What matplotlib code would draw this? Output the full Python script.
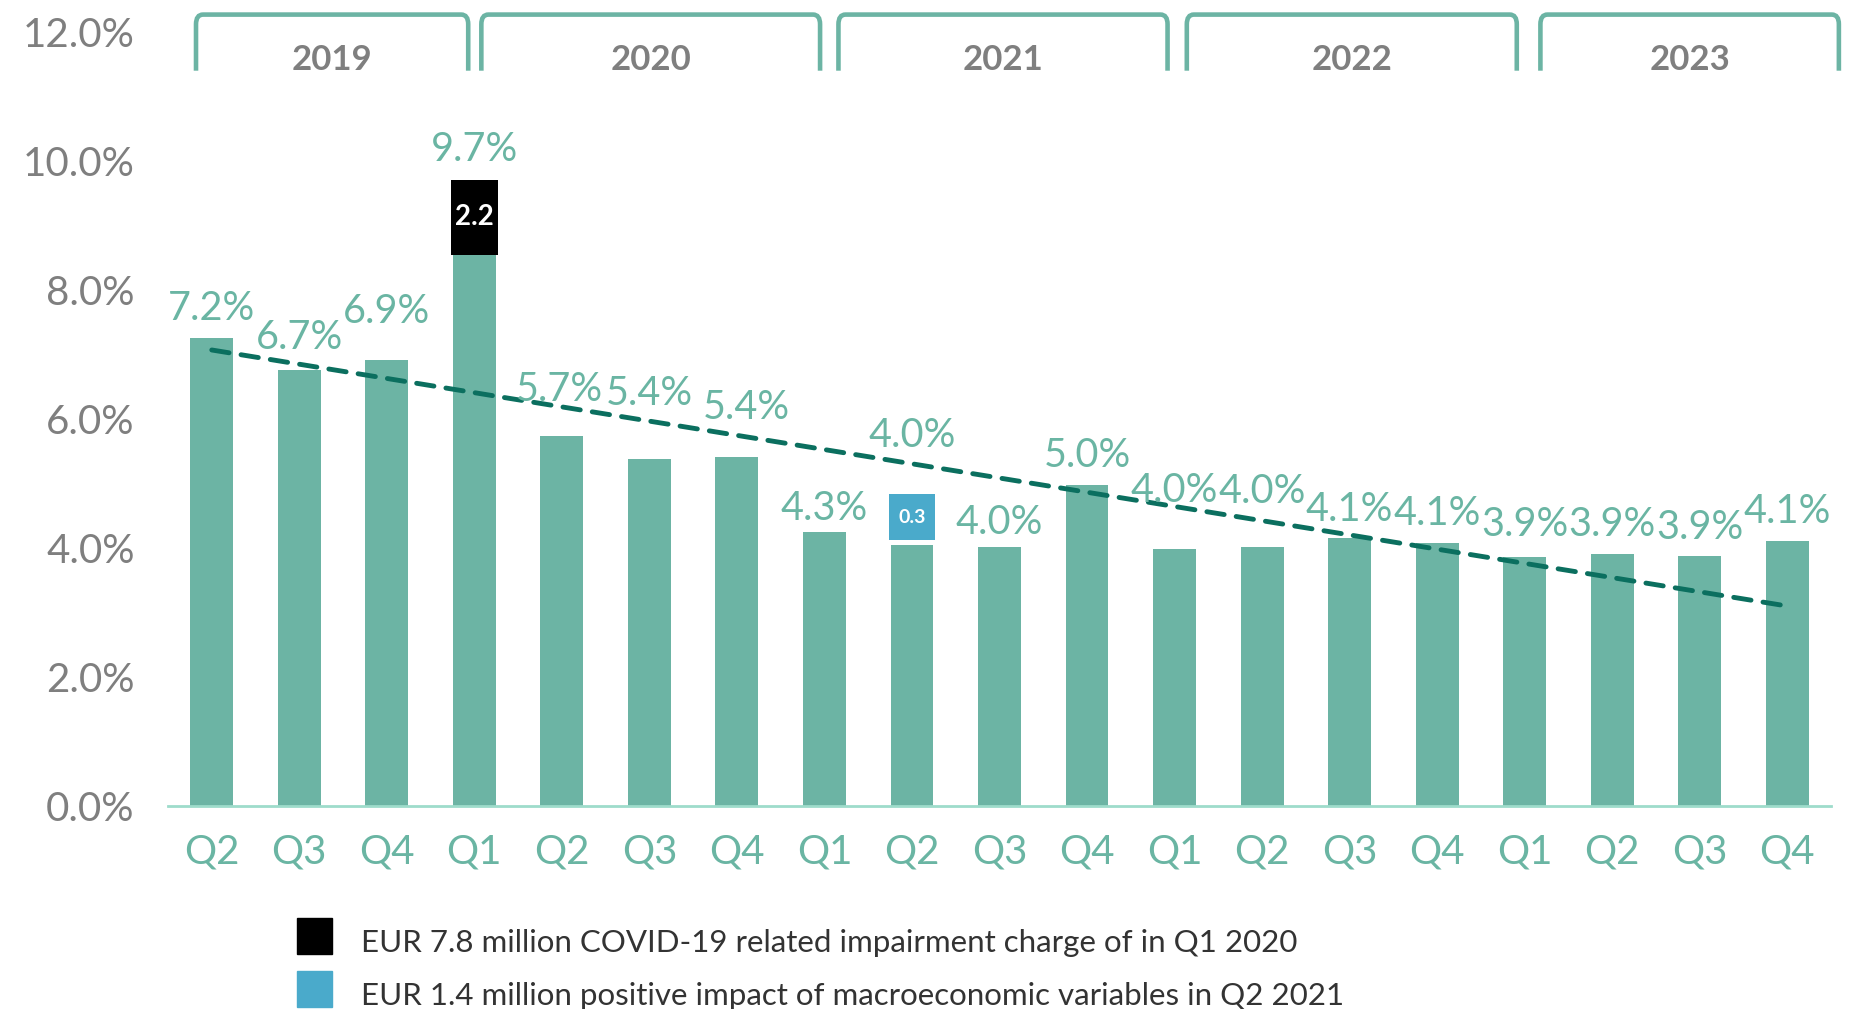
import matplotlib
matplotlib.use("Agg")
import matplotlib.pyplot as plt
from matplotlib.path import Path
from matplotlib.patches import PathPatch, Rectangle
import numpy as np

plt.rcParams['font.family'] = ['Lato', 'DejaVu Sans']

# === DATA ===
quarters = ["Q2", "Q3", "Q4",
            "Q1", "Q2", "Q3", "Q4",
            "Q1", "Q2", "Q3", "Q4",
            "Q1", "Q2", "Q3", "Q4",
            "Q1", "Q2", "Q3", "Q4"]
years = ["2019", "2020", "2021", "2022", "2023"]
# green bar heights (%)
rates = [7.26, 6.76, 6.92, 8.55, 5.73, 5.38, 5.41, 4.25, 4.04, 4.01,
         4.97, 3.98, 4.01, 4.16, 4.07, 3.86, 3.90, 3.87, 4.11]
rate_labels = ["7.2%", "6.7%", "6.9%", "9.7%", "5.7%", "5.4%", "5.4%", "4.3%",
               "4.0%", "4.0%", "5.0%", "4.0%", "4.0%", "4.1%", "4.1%", "3.9%",
               "3.9%", "3.9%", "4.1%"]
# one-off items
covid_idx, covid_range, covid_label = 3, (8.55, 9.70), "2.2"
macro_idx, macro_range, macro_label = 8, (4.12, 4.83), "0.3"
trend_start, trend_end = 7.07, 3.10
legend_texts = ["EUR 7.8 million COVID-19 related impairment charge of in Q1 2020",
                "EUR 1.4 million positive impact of macroeconomic variables in Q2 2021"]

# === STYLE ===
TEAL = "#6cb4a4"
TEAL_TXT = "#6ab5a3"
DARK = "#0b6f5f"
BLUE = "#4aaacb"
GREY = "#7f7f7f"

W, H = 1855, 1009
fig = plt.figure(figsize=(W / 100, H / 100), dpi=100)
ax = fig.add_axes([168 / W, 1 - 806 / H, (1831 - 168) / W, 774 / H])

x = np.arange(len(quarters))
ax.bar(x, rates, width=0.49, color=TEAL, zorder=2)

# one-off boxes
for idx, (b0, b1), lab, col, fs in [(covid_idx, covid_range, covid_label, "black", 20),
                                    (macro_idx, macro_range, macro_label, BLUE, 14)]:
    ax.add_patch(Rectangle((idx - 0.265, b0), 0.53, b1 - b0, color=col, zorder=3, lw=0))
    ax.text(idx, (b0 + b1) / 2, lab, color="white", fontsize=fs, fontweight="bold",
            ha="center", va="center", zorder=4)

# value labels (lift above bar top, in % units)
lift = [0.51, 0.57, 0.81, 0.54, 0.79, 1.07, 0.83, 0.43, 1.76, 0.45,
        0.52, 0.97, 0.93, 0.50, 0.52, 0.56, 0.52, 0.51, 0.51]
dx = [0, 0, 0, 0, -0.03, 0, 0.11, 0, 0, 0,
      0, 0, 0, 0, 0, 0, 0, 0, 0]
for i, lab in enumerate(rate_labels):
    top = covid_range[1] if i == covid_idx else rates[i]
    ax.text(i + dx[i], top + lift[i] - 0.06, lab, color=TEAL_TXT, fontsize=28.5,
            ha="center", va="center", zorder=5)

# trend line
ax.plot([x[0], x[-1]], [trend_start, trend_end], color=DARK, lw=3.5,
        dashes=(3.6, 2.5), dash_capstyle="round", zorder=4)

ax.set_xlim(-0.5, len(quarters) - 0.5)
ax.set_ylim(0, 12)
ax.set_yticks(np.arange(0, 12.1, 2))
ax.set_yticklabels([f"{v:.1f}%" for v in np.arange(0, 12.1, 2)],
                   color=GREY, fontsize=29)
ax.set_xticks(x)
ax.set_xticklabels(quarters, color=TEAL_TXT, fontsize=29)
ax.tick_params(axis="both", length=0)
ax.tick_params(axis="y", pad=24)
ax.tick_params(axis="x", pad=20)
for s in ["top", "right", "left"]:
    ax.spines[s].set_visible(False)
ax.spines["bottom"].set_color("#9edccb")
ax.spines["bottom"].set_linewidth(2)

# year brackets above the plot
brackets = [(-0.18, 2.93), (3.08, 6.95), (7.16, 10.92), (11.14, 14.91), (15.18, 18.59)]
y_bot, y_top = 11.40, 12.27
rx, ry = 0.08, 0.15
for (x0, x1), yr in zip(brackets, years):
    verts = [(x0, y_bot), (x0, y_top - ry), (x0, y_top), (x0 + rx, y_top),
             (x1 - rx, y_top), (x1, y_top), (x1, y_top - ry), (x1, y_bot)]
    codes = [Path.MOVETO, Path.LINETO, Path.CURVE3, Path.CURVE3,
             Path.LINETO, Path.CURVE3, Path.CURVE3, Path.LINETO]
    ax.add_patch(PathPatch(Path(verts, codes), fill=False, edgecolor=TEAL,
                           lw=3.3, clip_on=False, capstyle="butt"))
    ax.text((x0 + x1) / 2, 11.56, yr, color=GREY, fontsize=25, fontweight="bold",
            ha="center", va="center", clip_on=False)

# legend at the bottom
for k, (txt, col) in enumerate(zip(legend_texts, ["black", BLUE])):
    yc = 936 + k * 53
    fig.patches.append(Rectangle((297 / W, 1 - (yc + 18) / H), 35 / W, 36 / H,
                                 transform=fig.transFigure, color=col))
    fig.text(361 / W, 1 - (yc + 7) / H, txt, color="#333333", fontsize=22.5,
             ha="left", va="center")

fig.savefig("out.png", dpi=100)
